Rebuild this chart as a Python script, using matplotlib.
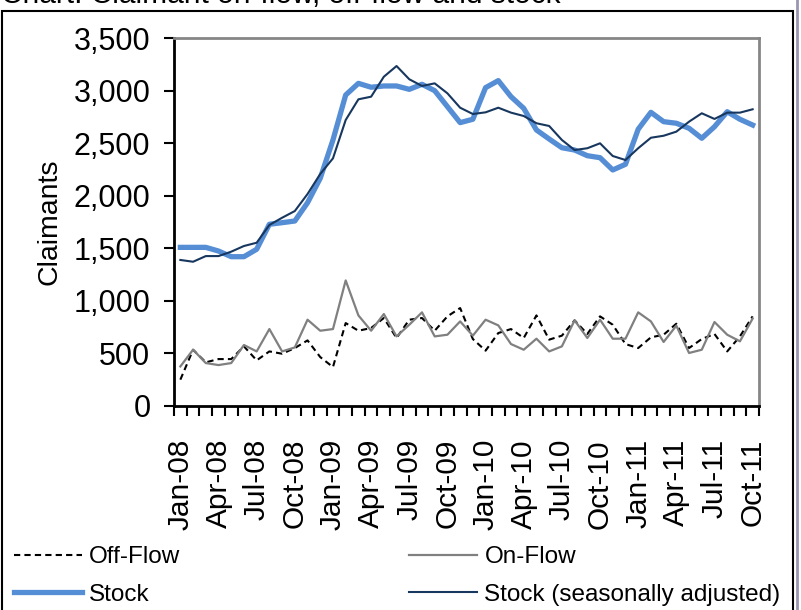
import numpy as np
import matplotlib
matplotlib.use("Agg")
import matplotlib.pyplot as plt
from matplotlib.patches import Rectangle

# monthly claimant counts, Jan-08 .. Oct-11
months = ["Jan-08", "Feb-08", "Mar-08", "Apr-08", "May-08", "Jun-08", "Jul-08", "Aug-08",
          "Sep-08", "Oct-08", "Nov-08", "Dec-08", "Jan-09", "Feb-09", "Mar-09", "Apr-09",
          "May-09", "Jun-09", "Jul-09", "Aug-09", "Sep-09", "Oct-09", "Nov-09", "Dec-09",
          "Jan-10", "Feb-10", "Mar-10", "Apr-10", "May-10", "Jun-10", "Jul-10", "Aug-10",
          "Sep-10", "Oct-10", "Nov-10", "Dec-10", "Jan-11", "Feb-11", "Mar-11", "Apr-11",
          "May-11", "Jun-11", "Jul-11", "Aug-11", "Sep-11", "Oct-11"]

off_flow = [248, 533, 413, 444, 444, 565, 432, 517, 495, 549, 622, 463, 368, 787, 714, 740,
            835, 645, 819, 835, 714, 851, 930, 635, 524, 692, 730, 645, 860, 629, 667, 813,
            683, 851, 771, 587, 549, 651, 676, 781, 549, 635, 683, 517, 660, 851]

on_flow = [374, 533, 406, 387, 406, 578, 517, 730, 517, 555, 819, 714, 730, 1193, 860, 714,
           873, 660, 771, 889, 660, 676, 803, 667, 819, 765, 587, 533, 638, 517, 565, 813,
           645, 819, 638, 638, 889, 803, 607, 762, 502, 533, 797, 676, 613, 830]

stock = [1508, 1508, 1508, 1473, 1419, 1419, 1490, 1728, 1743, 1759, 1933, 2166, 2531, 2959,
         3070, 3033, 3045, 3045, 3013, 3061, 3000, 2848, 2696, 2728, 3029, 3096, 2943, 2832,
         2626, 2540, 2457, 2435, 2381, 2362, 2245, 2299, 2633, 2794, 2705, 2690, 2642, 2547,
         2657, 2800, 2728, 2673]

stock_sa = [1388, 1371, 1425, 1425, 1467, 1521, 1552, 1721, 1790, 1854, 2016, 2207, 2356, 2721,
            2918, 2943, 3133, 3235, 3109, 3045, 3070, 2975, 2838, 2778, 2794, 2838, 2791, 2759,
            2690, 2664, 2531, 2435, 2452, 2499, 2378, 2340, 2452, 2552, 2571, 2610, 2705, 2785,
            2731, 2791, 2791, 2823]

plt.rcParams['font.family'] = ['Liberation Sans', 'DejaVu Sans']

fig = plt.figure(figsize=(8.01, 6.10), dpi=100)
W, H = 801, 610
ax = fig.add_axes([174 / W, 1 - 405.7 / H, (759 - 174) / W, (405.7 - 38.2) / H])

x = np.arange(len(months))
l_off, = ax.plot(x, off_flow, color='black', linestyle=(0, (3, 2)), linewidth=1.5, label='Off-Flow')
l_on, = ax.plot(x, on_flow, color='#808080', linewidth=1.6, label='On-Flow')
l_st, = ax.plot(x, stock, color='#558ED5', linewidth=3.8, label='Stock')
l_sa, = ax.plot(x, stock_sa, color='#17375E', linewidth=1.5, label='Stock (seasonally adjusted)')

ax.set_xlim(-0.5, len(months) - 0.5)
ax.set_ylim(0, 3500)
ax.set_yticks(np.arange(0, 3501, 500))
ax.set_yticklabels(['{:,}'.format(v) for v in range(0, 3501, 500)])
ax.tick_params(axis='y', labelsize=22, length=7, width=1.5, direction='out', pad=10)

# month boundaries get tick marks, every 3rd month gets a label
ax.set_xticks(np.arange(-0.5, len(months), 1))
ax.set_xticklabels([])
ax.tick_params(axis='x', which='major', length=7, width=1.5, direction='out')
ax.set_xticks(x[::3], minor=True)
ax.set_xticklabels(months[::3], minor=True, rotation=90, fontsize=21.5)
ax.tick_params(axis='x', which='minor', length=0, pad=24)

ax.set_ylabel('Claimants', fontsize=20.5)
ax.yaxis.set_label_coords(-0.19, 0.5)

for side in ['left', 'bottom']:
    ax.spines[side].set_color('black')
    ax.spines[side].set_linewidth(2)
for side in ['top', 'right']:
    ax.spines[side].set_color('#868686')
    ax.spines[side].set_linewidth(2)

fig.legend([l_off, l_st, l_on, l_sa],
           ['Off-Flow', 'Stock', 'On-Flow', 'Stock (seasonally adjusted)'],
           ncol=2, loc='upper left', bbox_to_anchor=(14 / W, 1 - 546 / H),
           frameon=False, fontsize=17.5, handlelength=2.8, handletextpad=0.3,
           columnspacing=9.4, labelspacing=0.65, borderpad=0, borderaxespad=0)

# chart border and clipped title above it
fig.patches.append(Rectangle((2 / W, -0.1), (793 - 2) / W, 1.1 - 11 / H,
                             transform=fig.transFigure, fill=False,
                             edgecolor='black', linewidth=1.5))
fig.text(1 / W, 1 - 3 / H, 'Chart: Claimant on-flow, off-flow and stock',
         fontsize=21.5, va='baseline', ha='left')
fig.add_artist(plt.Line2D([797 / W, 797 / W], [0, 1], color='#9A96B0', linewidth=2,
                          transform=fig.transFigure))

fig.savefig('out.png', dpi=100)
